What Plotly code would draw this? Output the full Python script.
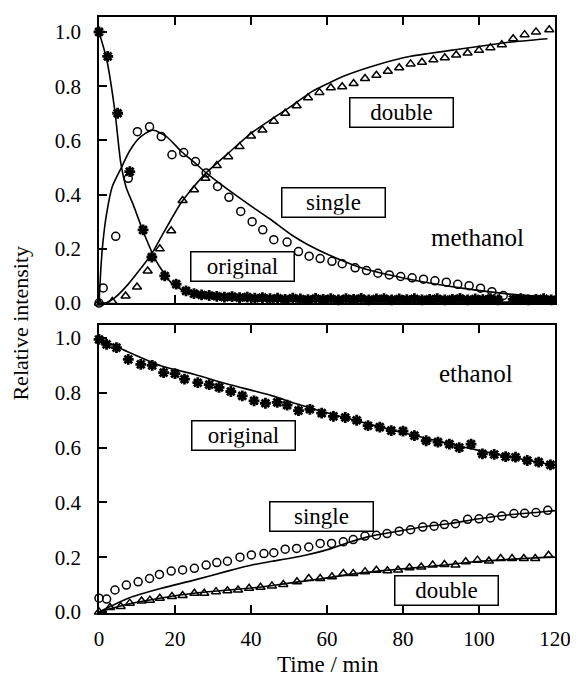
import plotly.graph_objects as go

# ---------------- methanol (top panel) ----------------
m_orig_t = [0, 2.3, 4.9, 8.1, 11.6, 13.9, 17.3, 20.3, 22.9,
            25, 27, 29, 31, 33, 35, 37, 39, 41, 43, 45, 47, 49, 51, 53, 55, 57, 59,
            61, 63, 65, 67, 69, 71, 73, 75, 77, 79, 81, 83, 85, 87, 89, 91, 93, 95,
            97, 99, 101, 103, 105, 107, 109, 111, 113, 115, 117, 119]
m_orig_y = [1.0, 0.91, 0.70, 0.485, 0.27, 0.17, 0.10, 0.07, 0.045,
            0.035, 0.03, 0.028, 0.025, 0.022, 0.024, 0.02, 0.022, 0.018, 0.02, 0.016, 0.018,
            0.014, 0.018, 0.015, 0.013, 0.017, 0.014, 0.016, 0.012, 0.016, 0.014, 0.017,
            0.012, 0.015, 0.016, 0.012, 0.015, 0.013, 0.016, 0.012, 0.014, 0.016, 0.012,
            0.014, 0.017, 0.012, 0.015, 0.013, 0.016, 0.012, -0.004, 0.014, 0.016, 0.012,
            0.014, 0.016, 0.012]

m_single_t = [0, 1.1, 4.4, 7.7, 10.1, 13.3, 16.4, 19.2, 22.3, 25.4, 28.2, 31.2, 34.2,
              37.3, 40.3, 43.1, 46, 49.5, 52.5, 55.3, 58.2, 61.3, 64, 67.4, 70.4, 73.4,
              76.4, 79.4, 82.4, 85.4, 88.4, 91.4, 94.4, 97.4, 100.4, 103.4, 106.4]
m_single_y = [0.0, 0.056, 0.246, 0.46, 0.632, 0.65, 0.614, 0.547, 0.555, 0.522, 0.48, 0.43,
              0.39, 0.338, 0.30, 0.27, 0.234, 0.225, 0.19, 0.173, 0.164, 0.154, 0.145, 0.13,
              0.12, 0.11, 0.104, 0.098, 0.093, 0.088, 0.082, 0.077, 0.069, 0.064, 0.055,
              0.042, 0.028]

m_double_t = [0, 3.5, 7, 10, 12.8, 16, 19, 22, 25, 28, 31, 34, 37, 40, 43, 46, 49, 52, 55,
              58, 61, 64, 67, 70, 73, 76, 79, 82, 85, 88, 91, 94, 97, 100, 103, 106, 109,
              112, 115, 118.5]
m_double_y = [0.0, 0.006, 0.026, 0.059, 0.118, 0.20, 0.267, 0.378, 0.418, 0.46, 0.507,
              0.54, 0.577, 0.616, 0.638, 0.671, 0.70, 0.728, 0.757, 0.777, 0.794, 0.798,
              0.81, 0.828, 0.84, 0.855, 0.868, 0.882, 0.888, 0.897, 0.905, 0.915, 0.922,
              0.932, 0.942, 0.953, 0.975, 0.99, 1.0, 1.008]

m_orig_fit_t = [0, 2, 4.2, 5.7, 7.2, 9, 11.6, 15.1, 19.4, 24.7, 30, 40, 60, 90, 120]
m_orig_fit_y = [1.0, 0.90, 0.706, 0.52, 0.424, 0.363, 0.265, 0.154, 0.069, 0.032, 0.018,
                0.01, 0.006, 0.004, 0.003]
m_single_fit_t = [0, 0.5, 1, 2, 3.5, 5.9, 8, 10.7, 14, 17.7, 21.6, 25, 28.2, 33.8, 40.8, 45,
                  50.8, 55, 60.4, 69, 82, 95, 108, 120]
m_single_fit_y = [0.0, 0.13, 0.22, 0.33, 0.43, 0.50, 0.56, 0.61, 0.638, 0.615, 0.56, 0.52,
                  0.48, 0.42, 0.35, 0.31, 0.25, 0.215, 0.178, 0.13, 0.087, 0.056, 0.033, 0.02]
m_double_fit_t = [0, 2, 4.2, 7.7, 10, 13.8, 17, 21.6, 25, 28.2, 33.8, 39.9, 45.6, 51, 56,
                  65, 73.5, 82, 95, 108, 118]
m_double_fit_y = [0.0, 0.002, 0.02, 0.07, 0.11, 0.18, 0.26, 0.37, 0.43, 0.48, 0.55, 0.625,
                  0.68, 0.73, 0.78, 0.84, 0.88, 0.91, 0.937, 0.962, 0.975]

# ---------------- ethanol (bottom panel) ----------------
e_orig_t = [0, 2, 4.6, 7.7, 11, 14, 17, 20, 22.5, 26, 29, 31.6, 34.7, 37.7, 40.8, 43.8,
            46.9, 49.5, 52.5, 55.5, 58.6, 61.7, 64.8, 67.8, 70.8, 73.9, 76.9, 80, 83, 86.1,
            89.2, 92.2, 94.8, 97.9, 100.9, 104, 107, 109.6, 112.7, 115.7, 118.8]
e_orig_y = [0.995, 0.977, 0.965, 0.922, 0.904, 0.90, 0.874, 0.87, 0.85, 0.837, 0.83, 0.82,
            0.805, 0.789, 0.771, 0.762, 0.765, 0.755, 0.735, 0.74, 0.726, 0.714, 0.71, 0.70,
            0.68, 0.675, 0.662, 0.66, 0.644, 0.625, 0.62, 0.613, 0.60, 0.613, 0.577, 0.575,
            0.567, 0.565, 0.553, 0.547, 0.537]

e_single_t = [0, 2, 4.2, 7.2, 10.3, 13.3, 15.9, 19, 22, 25.1, 28.2, 31, 33.8, 37.1, 40.1,
              43.4, 46, 49, 52, 55.2, 58.2, 61.2, 64.3, 66.9, 70, 73, 75.8, 79, 82, 85.2,
              88.2, 90.9, 93.8, 97, 100, 103, 106, 109.2, 112, 115, 118.1]
e_single_y = [0.05, 0.047, 0.08, 0.098, 0.11, 0.122, 0.137, 0.149, 0.153, 0.159, 0.171,
              0.18, 0.185, 0.20, 0.208, 0.213, 0.216, 0.229, 0.232, 0.237, 0.25, 0.25, 0.256,
              0.264, 0.277, 0.28, 0.286, 0.295, 0.30, 0.31, 0.313, 0.319, 0.322, 0.338, 0.34,
              0.343, 0.35, 0.359, 0.36, 0.363, 0.371]

e_double_t = [0, 2.9, 5.7, 8.1, 11.2, 13.4, 16, 19.2, 22, 25.1, 27.7, 30.8, 33.8, 36.6,
              39.5, 42.5, 45.5, 48.5, 52.1, 55.2, 58.2, 61.3, 64.3, 66.9, 70, 73, 75.9, 78.7,
              81.7, 84.8, 87.8, 90.9, 93.8, 96.5, 99.6, 102.6, 105.7, 108.7, 111.8, 114.8,
              118.3]
e_double_y = [0.0, 0.016, 0.02, 0.032, 0.04, 0.043, 0.05, 0.056, 0.06, 0.068, 0.068, 0.074,
              0.077, 0.08, 0.086, 0.09, 0.095, 0.10, 0.11, 0.122, 0.122, 0.128, 0.14, 0.14,
              0.147, 0.152, 0.15, 0.153, 0.161, 0.164, 0.171, 0.173, 0.171, 0.183, 0.189,
              0.186, 0.195, 0.195, 0.195, 0.195, 0.207]

e_orig_fit_t = [0, 8, 16.4, 25, 33.8, 40.8, 45.6, 52, 58, 64, 70, 76, 82, 88, 94, 100, 106,
                112, 118, 120]
e_orig_fit_y = [1.0, 0.947, 0.898, 0.868, 0.832, 0.807, 0.789, 0.76, 0.735, 0.712, 0.69,
                0.668, 0.648, 0.628, 0.608, 0.59, 0.572, 0.556, 0.54, 0.535]
e_single_fit_t = [0, 7.7, 16.4, 25, 33.8, 40.8, 45.6, 54.3, 61.3, 66, 71, 78, 85, 92, 100,
                  108, 115, 120]
e_single_fit_y = [0.0, 0.05, 0.086, 0.116, 0.149, 0.173, 0.185, 0.207, 0.232, 0.255, 0.275,
                  0.293, 0.31, 0.322, 0.34, 0.355, 0.363, 0.37]
e_double_fit_t = [0, 8, 16, 25, 34, 42, 50, 58, 66, 74, 82, 90, 98, 106, 114, 120]
e_double_fit_y = [0.0, 0.03, 0.05, 0.068, 0.08, 0.09, 0.105, 0.12, 0.137, 0.15, 0.16, 0.17,
                  0.182, 0.19, 0.197, 0.2]

x_ticks = [0, 20, 40, 60, 80, 100, 120]
y_ticks = [0.0, 0.2, 0.4, 0.6, 0.8, 1.0]

FONT = "Liberation Serif"
BLACK = "black"

fig = go.Figure()


def add_panel(xa, ya, orig, single, double, fits):
    for (t, y) in fits:
        fig.add_trace(go.Scatter(x=t, y=y, mode="lines", xaxis=xa, yaxis=ya,
                                 line=dict(color=BLACK, width=1.6, shape="spline", smoothing=0.6),
                                 showlegend=False, hoverinfo="skip"))
    fig.add_trace(go.Scatter(x=orig[0], y=orig[1], mode="markers", xaxis=xa, yaxis=ya,
                             marker=dict(symbol="asterisk-open", size=9, color=BLACK,
                                         line=dict(color=BLACK, width=2.8)),
                             cliponaxis=False, showlegend=False))
    fig.add_trace(go.Scatter(x=single[0], y=single[1], mode="markers", xaxis=xa, yaxis=ya,
                             marker=dict(symbol="circle-open", size=8, color=BLACK,
                                         line=dict(color=BLACK, width=1.5)),
                             cliponaxis=False, showlegend=False))
    fig.add_trace(go.Scatter(x=double[0], y=double[1], mode="markers", xaxis=xa, yaxis=ya,
                             marker=dict(symbol="triangle-up-open", size=8, color=BLACK,
                                         line=dict(color=BLACK, width=1.5)),
                             cliponaxis=False, showlegend=False))


add_panel("x", "y", (m_orig_t, m_orig_y), (m_single_t, m_single_y), (m_double_t, m_double_y),
          [(m_orig_fit_t, m_orig_fit_y), (m_single_fit_t, m_single_fit_y),
           (m_double_fit_t, m_double_fit_y)])
add_panel("x2", "y2", (e_orig_t, e_orig_y), (e_single_t, e_single_y), (e_double_t, e_double_y),
          [(e_orig_fit_t, e_orig_fit_y), (e_single_fit_t, e_single_fit_y),
           (e_double_fit_t, e_double_fit_y)])

axis_common = dict(showline=True, linecolor=BLACK, linewidth=1.6, ticks="inside",
                   ticklen=8, tickwidth=1.5, tickcolor=BLACK, showgrid=False, zeroline=False,
                   tickfont=dict(family=FONT, size=21, color=BLACK))

# page body has an 8px margin: figure starts at (8, 8) in the window
fig.update_layout(
    width=570, height=669,
    margin=dict(l=91, r=20, t=7, b=64),
    paper_bgcolor="white", plot_bgcolor="white",
    font=dict(family=FONT, color=BLACK),
    showlegend=False,
    xaxis=dict(domain=[0, 1], anchor="y", range=[0, 120], tickvals=x_ticks,
               showticklabels=False, mirror="ticks", **axis_common),
    yaxis=dict(domain=[0.52, 1.0], anchor="x", range=[0, 1.055], tickvals=y_ticks,
               tickformat=".1f", mirror=True, ticklabelstandoff=12, **axis_common),
    xaxis2=dict(domain=[0, 1], anchor="y2", range=[0, 120], tickvals=x_ticks,
                mirror="ticks", ticklabelstandoff=6, **axis_common),
    yaxis2=dict(domain=[0, 0.4833], anchor="x2", range=[-0.004, 1.048], tickvals=y_ticks,
                tickformat=".1f", mirror=True, ticklabelstandoff=12, **axis_common),
)

box = dict(showarrow=False, bordercolor=BLACK, borderwidth=1.5, borderpad=2,
           width=98, height=24, font=dict(family=FONT, size=23, color=BLACK))
labels = [
    ("x", "y", 79.7, 0.704, "double"),
    ("x", "y", 61.7, 0.371, "single"),
    ("x", "y", 37.7, 0.135, "original"),
    ("x2", "y2", 37.9, 0.645, "original"),
    ("x2", "y2", 58.6, 0.349, "single"),
    ("x2", "y2", 91.5, 0.08, "double"),
]
for xa, ya, x, y, txt in labels:
    fig.add_annotation(xref=xa, yref=ya, x=x, y=y, text=txt, **box)

fig.add_annotation(xref="x", yref="y", x=99.6, y=0.243, text="methanol", showarrow=False,
                   font=dict(family=FONT, size=25, color=BLACK))
fig.add_annotation(xref="x2", yref="y2", x=99.2, y=0.871, text="ethanol", showarrow=False,
                   font=dict(family=FONT, size=25, color=BLACK))

fig.add_annotation(xref="paper", yref="paper", x=0.503, y=-0.087, text="Time / min",
                   showarrow=False, yanchor="middle",
                   font=dict(family=FONT, size=23, color=BLACK))
fig.add_annotation(xref="paper", yref="paper", x=-0.172, y=0.4866, text="Relative intensity",
                   showarrow=False, textangle=-90, xanchor="center", yanchor="middle",
                   font=dict(family=FONT, size=22, color=BLACK))

fig.write_html("out.html")
